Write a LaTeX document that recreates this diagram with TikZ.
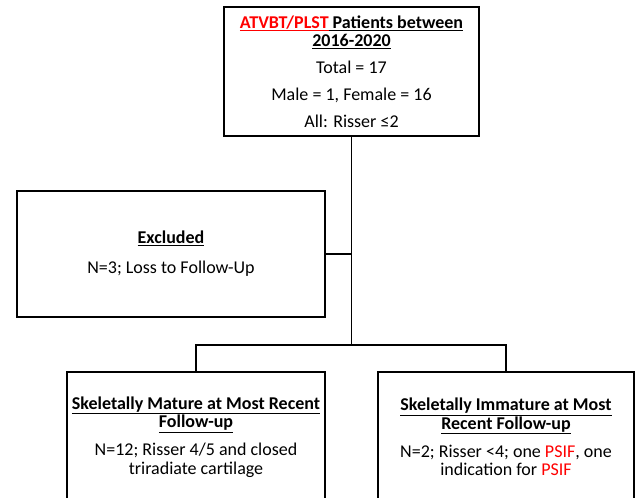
\documentclass[tikz,border=0pt]{standalone}
\usepackage{fontspec}
\setmainfont{Carlito}
\usetikzlibrary{positioning}

\tikzset{
  box/.style={draw, line width=1.5pt, align=center, inner sep=0pt,
    font=\fontsize{18}{18.5}\selectfont},
  link/.style={line width=1.5pt},
}
\newcommand{\ul}[1]{\underline{#1}}

\begin{document}
\begin{tikzpicture}[x=1pt, y=-1pt]
\useasboundingbox (0,0) rectangle (635,498);
\clip (0,0) rectangle (635,498);

\node[box, minimum width=255pt, minimum height=129pt] (patients) at (351.5,71.5)
  {\textbf{\textcolor{red}{\ul{ATVBT/PLST}}\ul{ Patients between}}\\
   \textbf{\ul{2016-2020}}\\[8.5pt]
   Total = 17\\[8.5pt]
   Male = 1, Female = 16\\[8pt]
   All: Risser ≤2};
\node[box, minimum width=308pt, minimum height=126pt] (excl) at (171,254)
  {\textbf{\ul{Excluded}}\\[11.5pt]
   N=3; Loss to Follow-Up};
\node[box, minimum width=258pt, minimum height=130pt] (mature) at (196,437)
  {\textbf{\ul{Skeletally Mature at Most Recent}}\\
   \textbf{\ul{Follow-up}}\\[9.5pt]
   N=12; Risser 4/5 and closed\\
   triradiate cartilage};
\node[box, minimum width=256pt, minimum height=130pt] (immature) at (506,437)
  {\textbf{\ul{Skeletally Immature at Most}}\\
   \textbf{\ul{Recent Follow-up}}\\[9.5pt]
   N=2; Risser <4; one \textcolor{red}{PSIF}, one\\
   indication for \textcolor{red}{PSIF}};

\coordinate (split) at (patients.south |- 0,345);
\draw[link] (patients.south) -- (split);
\draw[link] (excl.east) -- (excl.east -| split);
\draw[link] (mature.north) |- (split) -| (immature.north);
\end{tikzpicture}
\end{document}
